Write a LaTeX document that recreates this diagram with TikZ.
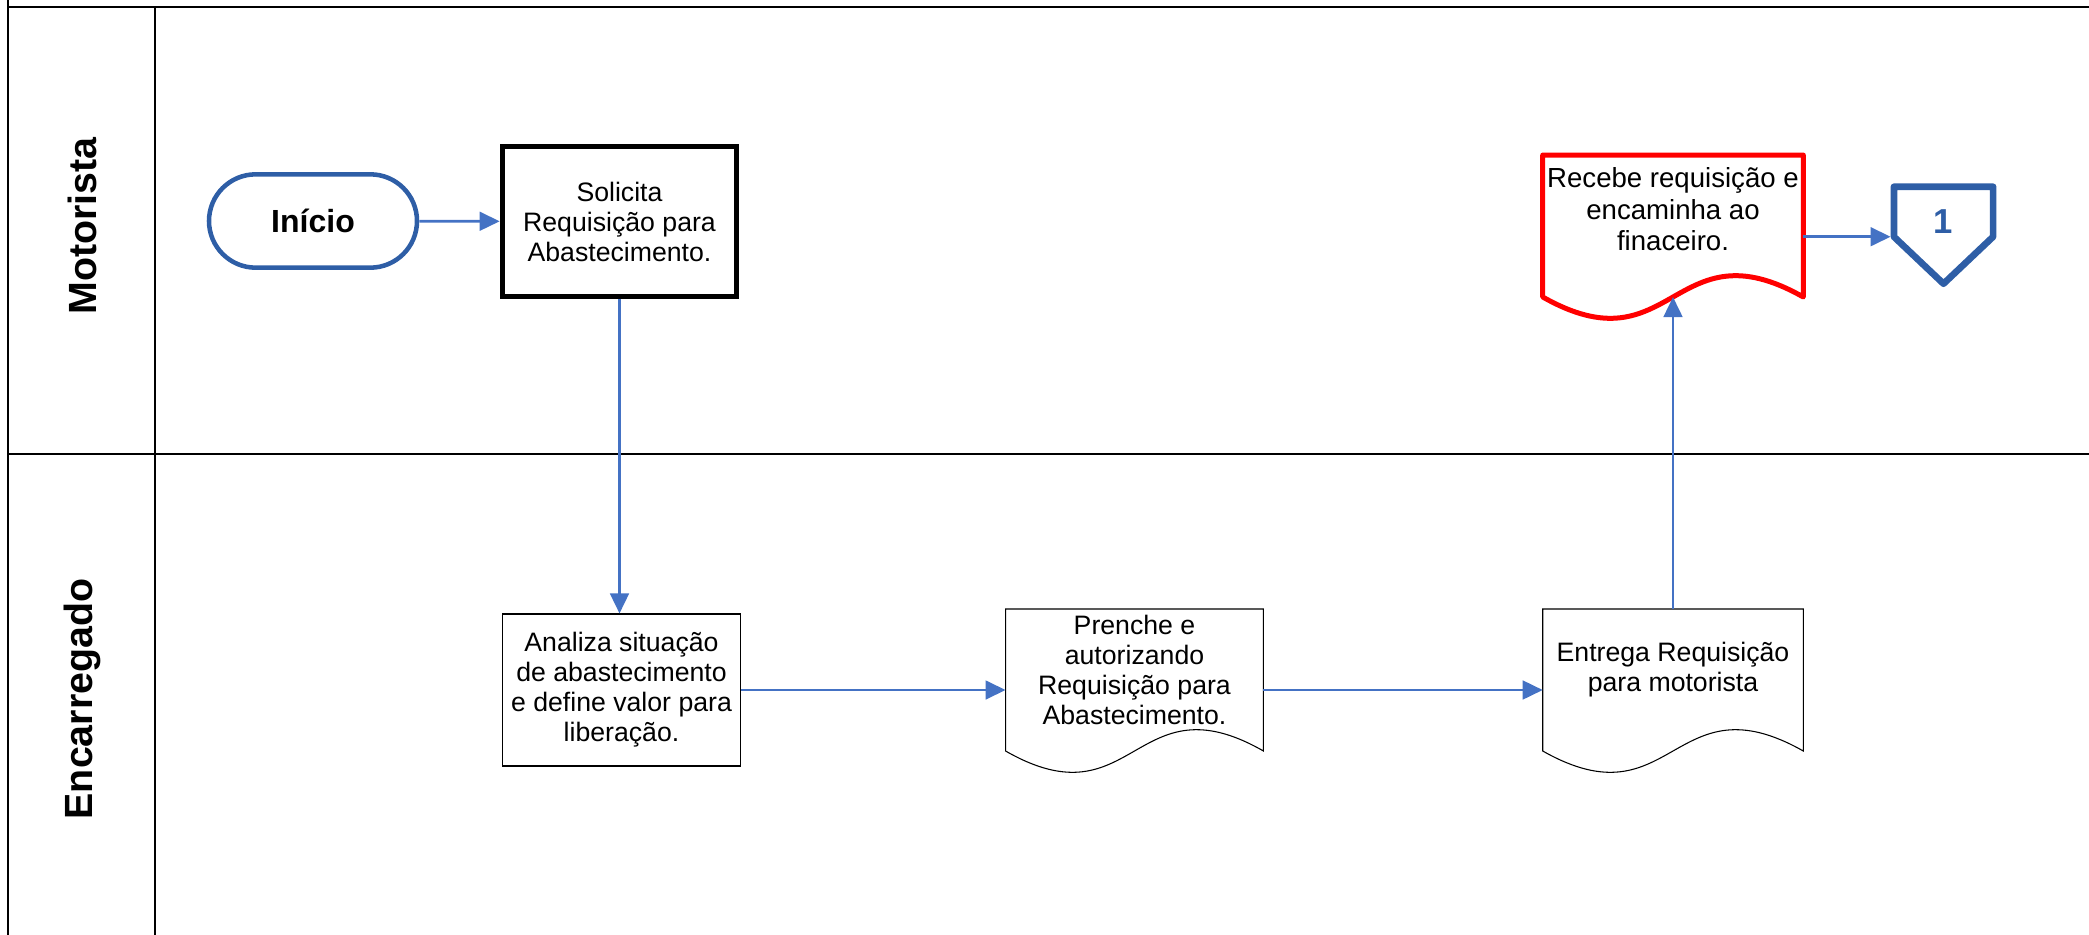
\documentclass[tikz,border=0pt]{standalone}
\usepackage{fontspec}
\setmainfont{Liberation Sans}
\usepackage{xcolor}
\usepackage{tikz}
\usetikzlibrary{arrows.meta, positioning}

\definecolor{flowblue}{RGB}{68,114,196}
\definecolor{darkblue}{RGB}{46,94,166}

% document outline below a docbox node: #2 node, #3 length of the sides
\newcommand{\docwave}[3][]{%
  \coordinate (#2 wave) at ([yshift=-#3]#2.north);
  \draw[#1] (#2.north west) -- (#2.north east) -- ([yshift=-#3]#2.north east)
    .. controls ([yshift={-0.48*#3}]#2.north) and ([yshift={-1.52*#3}]#2.north)
    .. ([yshift=-#3]#2.north west) -- cycle;}

\begin{document}
\begin{tikzpicture}[x=0.75pt, y=-0.75pt,
    font=\fontsize{20pt}{22.5pt}\selectfont,
    lane/.style={line width=1.3pt},
    lanename/.style={rotate=90, font=\bfseries\fontsize{29.5pt}{31pt}\selectfont},
    terminal/.style={rectangle, rounded corners=35pt, draw=darkblue, line width=3.4pt,
      minimum width=156pt, minimum height=70pt, font=\bfseries\fontsize{24pt}{26pt}\selectfont},
    stepbox/.style={rectangle, draw, align=center, inner sep=0pt},
    docbox/.style={rectangle, anchor=north, align=center, inner sep=0pt,
      minimum width=195pt, minimum height=91pt},
    offpage/.style={rectangle, minimum width=74pt, minimum height=52.5pt, text=darkblue,
      font=\bfseries\fontsize{26pt}{28pt}\selectfont},
    flow/.style={draw=flowblue, line width=2pt, -{Triangle[length=15pt,width=14pt]}}
  ]
  \useasboundingbox (0,0) rectangle (2089,935);

  % Lanes
  \draw[lane] (8,0) -- (8,935);
  \draw[lane] (8,7) -- (2089,7);
  \draw[lane] (8,454) -- (2089,454);
  \draw[lane] (155,7) -- (155,935);
  \node[lanename] (motorista) at (82,226) {Motorista};
  \node[lanename] (encarregado) at (82,699) {Encarregado};

  % Steps
  \node[terminal] (inicio) at (313,221) {Início};
  \node[stepbox, line width=3.75pt, minimum width=176pt, minimum height=112pt]
    (solicita) at (619.5,221.5) {Solicita\\Requisição para\\Abastecimento.};
  \node[stepbox, line width=0.8pt, minimum width=179pt, minimum height=114pt]
    (analiza) at (621.5,690) {Analiza situação\\de abastecimento\\e define valor para\\liberação.};
  \node[docbox, minimum width=193pt] (prenche) at (1134.5,609)
    {Prenche e\\autorizando\\Requisição para\\Abastecimento.};
  \node[docbox] (entrega) at (1673,609) {Entrega Requisição\\para motorista};
  \node[docbox, minimum height=81pt, font=\fontsize{20.7pt}{23.5pt}\selectfont] (recebe) at (1673,155)
    {Recebe requisição e\\encaminha ao\\finaceiro.};
  \node[offpage] (conector) at (1943.5,222) {1};

  \docwave[line width=0.8pt]{prenche}{106.5pt}
  \docwave[line width=0.8pt]{entrega}{106.5pt}
  \docwave[red, line width=3.75pt, line join=round]{recebe}{106.5pt}
  \draw[darkblue, line width=5pt, line join=round] (conector.north west) -- (conector.north east)
    -- ([yshift=-37.5pt]conector.north east) -- ([yshift=-72.75pt]conector.north)
    -- ([yshift=-37.5pt]conector.north west) -- cycle;
  \coordinate (conector corner) at ([yshift=-37.5pt]conector.north west);

  % Flow
  \draw[flow] (inicio) -- (solicita);
  \draw[flow] (solicita.south) -- (solicita.south |- analiza.north);
  \draw[flow] (analiza) -- (analiza -| prenche.west);
  \draw[flow] (prenche.east |- analiza) -- (entrega.west |- analiza);
  \draw[flow] (entrega.north) -- (recebe wave);
  \draw[flow, shorten >=2.5pt] (recebe.east |- conector corner) -- (conector corner);
\end{tikzpicture}
\end{document}
